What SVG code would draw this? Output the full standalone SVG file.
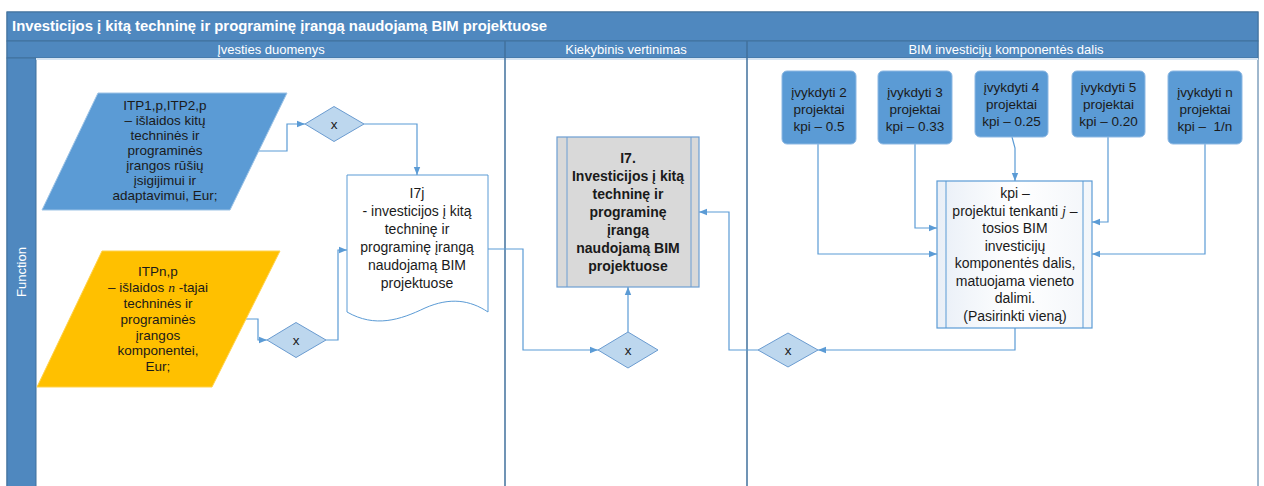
<svg xmlns="http://www.w3.org/2000/svg" width="1264" height="486" viewBox="0 0 1264 486">
  <defs>
    <marker id="arr" viewBox="0 0 10 10" refX="10" refY="5" markerWidth="8" markerHeight="8" markerUnits="userSpaceOnUse" orient="auto">
      <path d="M0,1 L10,5 L0,9 z" fill="#5B9BD5"/>
    </marker>
    <linearGradient id="kpiFill" x1="0" y1="0" x2="1" y2="0">
      <stop offset="0" stop-color="#E9EFF7"/>
      <stop offset="0.5" stop-color="#FFFFFF"/>
      <stop offset="1" stop-color="#F3F6FA"/>
    </linearGradient>
  </defs>
  <style>
    .bar { fill: #4F88BF; stroke: #41719C; stroke-width: 1; }
    .lane { fill: none; stroke: #41719C; stroke-width: 1.5; }
    .hdr { font-family: "Liberation Sans", Arial, sans-serif; font-size: 13px; fill: #FFFFFF; text-anchor: middle; }
    .t { font-family: "Liberation Sans", Arial, sans-serif; font-size: 14px; fill: #1A1A1A; text-anchor: middle; }
    .ts { font-family: "Liberation Sans", Arial, sans-serif; font-size: 13.5px; fill: #1A1A1A; text-anchor: middle; }
    .b { font-weight: bold; }
    .it { font-family: "Liberation Serif", "Times New Roman", serif; font-style: italic; }
    .gate { fill: #BDD7EE; stroke: #6A9BD0; stroke-width: 1; }
    .kbox { fill: #5B9BD5; stroke: #8DB8E3; stroke-width: 1; }
    .conn path { fill: none; stroke: #5B9BD5; stroke-width: 1.2; }
  </style>

  <!-- pool frame, title bar and lane headers -->
  <rect x="7" y="12" width="1251" height="480" fill="#FFFFFF" stroke="#41719C" stroke-width="1"/>
  <rect class="bar" x="7" y="12" width="1251" height="29"/>
  <rect class="bar" x="7" y="41" width="1251" height="17"/>
  <rect class="bar" x="7" y="58" width="29" height="430"/>
  <line x1="36" y1="59" x2="1258" y2="59" stroke="#D6E4F2" stroke-width="2"/>
  <line class="lane" x1="505" y1="41" x2="505" y2="486"/>
  <line class="lane" x1="747" y1="41" x2="747" y2="486"/>
  <text x="12" y="31" font-family="Liberation Sans, Arial, sans-serif" font-size="14px" font-weight="bold" fill="#FFFFFF" textLength="535" lengthAdjust="spacingAndGlyphs">Investicijos į kitą techninę ir programinę įrangą naudojamą BIM projektuose</text>
  <text class="hdr" x="271" y="54">Įvesties duomenys</text>
  <text class="hdr" x="626" y="54">Kiekybinis vertinimas</text>
  <text class="hdr" x="1006" y="54">BIM investicijų komponentės dalis</text>
  <text class="hdr" transform="translate(25.5,272) rotate(-90)" font-size="12.5px">Function</text>

  <!-- connectors -->
  <g id="connectors" class="conn">
    <path d="M258,151 H287 V124 H305" marker-end="url(#arr)"/>
    <path d="M364,124 H417 V175" marker-end="url(#arr)"/>
    <path d="M246,319 H258 V340 H267" marker-end="url(#arr)"/>
    <path d="M326,340 H338 V250 H347" marker-end="url(#arr)"/>
    <path d="M488,249 H523 V350 H598" marker-end="url(#arr)"/>
    <path d="M628,332 V287" marker-end="url(#arr)"/>
    <path d="M1015,328 V350 H818" marker-end="url(#arr)"/>
    <path d="M758,350 H729 V212 H699" marker-end="url(#arr)"/>
    <path d="M818,144 V254 H937" marker-end="url(#arr)"/>
    <path d="M915,144 V228 H937" marker-end="url(#arr)"/>
    <path d="M1012,137 L1015,148 V181" marker-end="url(#arr)"/>
    <path d="M1108,137 V222 H1092" marker-end="url(#arr)"/>
    <path d="M1205,144 V254 H1092" marker-end="url(#arr)"/>
  </g>

  <!-- input: ITP1,p, ITP2,p -->
  <g id="itp-kitos">
    <polygon points="98,93 287,93 230,210 42,210" fill="#5B9BD5" stroke="#9DC3E6" stroke-width="1"/>
    <text class="ts" x="165" y="110">ITP1,p,ITP2,p</text>
    <text class="ts" x="165" y="125">– išlaidos kitų</text>
    <text class="ts" x="165" y="140">techninės ir</text>
    <text class="ts" x="165" y="155">programinės</text>
    <text class="ts" x="165" y="170">įrangos rūšių</text>
    <text class="ts" x="165" y="185">įsigijimui ir</text>
    <text class="ts" x="165" y="200">adaptavimui, Eur;</text>
  </g>

  <!-- input: ITPn,p -->
  <g id="itp-n">
    <polygon points="102,251 280,251 212,387 37,387" fill="#FFC000" stroke="#FFD24D" stroke-width="1"/>
    <text class="ts" x="158" y="276">ITPn,p</text>
    <text class="ts" x="158" y="292">– išlaidos <tspan class="it">n</tspan> -tajai</text>
    <text class="ts" x="158" y="308">techninės ir</text>
    <text class="ts" x="158" y="324">programinės</text>
    <text class="ts" x="158" y="340">įrangos</text>
    <text class="ts" x="158" y="355">komponentei,</text>
    <text class="ts" x="158" y="371">Eur;</text>
  </g>

  <!-- gates -->
  <g id="gate-1">
    <polygon class="gate" points="305,124 334,106.5 364,124 334,141.5"/>
    <text class="ts" x="334" y="128.5" font-size="13px">x</text>
  </g>
  <g id="gate-2">
    <polygon class="gate" points="267,340 296,322.5 326,340 296,357.5"/>
    <text class="ts" x="296" y="344.5" font-size="13px">x</text>
  </g>
  <g id="gate-3">
    <polygon class="gate" points="598,350 628,332 658,350 628,368"/>
    <text class="ts" x="628" y="354.5" font-size="13px">x</text>
  </g>
  <g id="gate-4">
    <polygon class="gate" points="758,350 788,333 818,350 788,367"/>
    <text class="ts" x="788" y="354.5" font-size="13px">x</text>
  </g>

  <!-- I7j document -->
  <g id="i7j">
    <path d="M347,175 H488 V312 C470,300 450,297 425,308 C400,320 375,328 347,312 Z" fill="#FFFFFF" stroke="#5B9BD5" stroke-width="1"/>
    <text class="t" x="417" y="198">I7j</text>
    <text class="t" x="417" y="216">- investicijos į kitą</text>
    <text class="t" x="417" y="234">techninę ir</text>
    <text class="t" x="417" y="252">programinę įrangą</text>
    <text class="t" x="417" y="270">naudojamą BIM</text>
    <text class="t" x="417" y="288">projektuose</text>
  </g>

  <!-- I7 result -->
  <g id="i7">
    <rect x="557" y="137" width="142" height="150" fill="#D9D9D9" stroke="#6D9ED3" stroke-width="1.2"/>
    <line x1="567" y1="137" x2="567" y2="287" stroke="#6D9ED3" stroke-width="1"/>
    <line x1="691" y1="137" x2="691" y2="287" stroke="#6D9ED3" stroke-width="1"/>
    <text class="t b" x="628" y="163">I7.</text>
    <text class="t b" x="628" y="181">Investicijos į kitą</text>
    <text class="t b" x="628" y="199">techninę ir</text>
    <text class="t b" x="628" y="217">programinę</text>
    <text class="t b" x="628" y="235">įrangą</text>
    <text class="t b" x="628" y="253">naudojamą BIM</text>
    <text class="t b" x="628" y="271">projektuose</text>
  </g>

  <!-- kpi process -->
  <g id="kpi">
    <rect x="937" y="181" width="155" height="147" fill="url(#kpiFill)" stroke="#5B9BD5" stroke-width="1.2"/>
    <line x1="946" y1="181" x2="946" y2="328" stroke="#5B9BD5" stroke-width="1"/>
    <line x1="1083" y1="181" x2="1083" y2="328" stroke="#5B9BD5" stroke-width="1"/>
    <text class="t" x="1015" y="198">kpi –</text>
    <text class="t" x="1015" y="215.5">projektui tenkanti <tspan class="it">j</tspan> –</text>
    <text class="t" x="1015" y="233">tosios BIM</text>
    <text class="t" x="1015" y="250.5">investicijų</text>
    <text class="t" x="1015" y="268">komponentės dalis,</text>
    <text class="t" x="1015" y="285.5">matuojama vieneto</text>
    <text class="t" x="1015" y="303">dalimi.</text>
    <text class="t" x="1015" y="320.5">(Pasirinkti vieną)</text>
  </g>

  <!-- project count options -->
  <g id="kpi-2">
    <rect class="kbox" x="782" y="71" width="74" height="73" rx="5"/>
    <text class="ts" x="819" y="97">įvykdyti 2</text>
    <text class="ts" x="819" y="114">projektai</text>
    <text class="ts" x="819" y="131">kpi – 0.5</text>
  </g>
  <g id="kpi-3">
    <rect class="kbox" x="878" y="71" width="74" height="73" rx="5"/>
    <text class="ts" x="915" y="97">įvykdyti 3</text>
    <text class="ts" x="915" y="114">projektai</text>
    <text class="ts" x="915" y="131">kpi – 0.33</text>
  </g>
  <g id="kpi-4">
    <rect class="kbox" x="975" y="71" width="73" height="66" rx="5"/>
    <text class="ts" x="1011.5" y="92">įvykdyti 4</text>
    <text class="ts" x="1011.5" y="109">projektai</text>
    <text class="ts" x="1011.5" y="126">kpi – 0.25</text>
  </g>
  <g id="kpi-5">
    <rect class="kbox" x="1072" y="71" width="73" height="66" rx="5"/>
    <text class="ts" x="1108.5" y="92">įvykdyti 5</text>
    <text class="ts" x="1108.5" y="109">projektai</text>
    <text class="ts" x="1108.5" y="126">kpi – 0.20</text>
  </g>
  <g id="kpi-n">
    <rect class="kbox" x="1168" y="71" width="74" height="73" rx="5"/>
    <text class="ts" x="1205" y="97">įvykdyti n</text>
    <text class="ts" x="1205" y="114">projektai</text>
    <text class="ts" x="1205" y="131">kpi – &#160;1/n</text>
  </g>
</svg>
